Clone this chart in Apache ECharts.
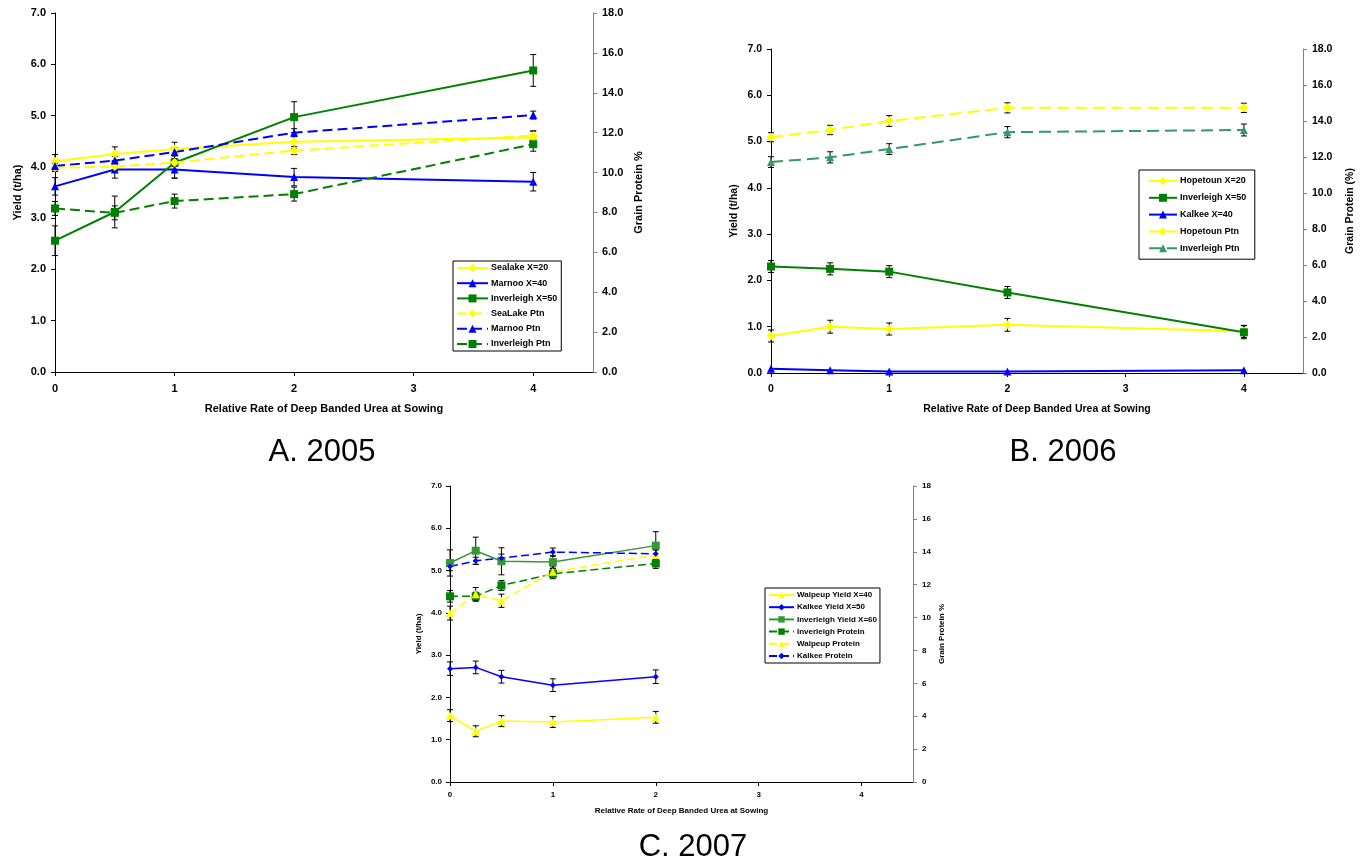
<!DOCTYPE html>
<html>
<head>
<meta charset="utf-8">
<script src="https://cdn.jsdelivr.net/npm/echarts@6/dist/echarts.min.js"></script>
<style>html,body{margin:0;padding:0;background:#fff;}#c{width:1361px;height:862px;}</style>
</head>
<body>
<div id="c"></div>
<script>
// ---------- DATA ----------
// A. 2005
const xA = [0, 0.5, 1, 2, 4];
const sealakeYield = [4.11, 4.25, 4.35, 4.49, 4.57];
const sealakeYieldErr = [0.13, 0.14, 0.13, 0.13, 0.13];
const marnooYield = [3.62, 3.95, 3.95, 3.80, 3.71];
const marnooYieldErr = [0.17, 0.17, 0.17, 0.17, 0.18];
const inverleighYieldA = [2.56, 3.12, 4.08, 4.97, 5.88];
const inverleighYieldAErr = [0.29, 0.31, 0.30, 0.30, 0.31];
const sealakePtn = [10.25, 10.3, 10.5, 11.1, 11.86];
const sealakePtnErr = [0.2, 0.2, 0.2, 0.2, 0.22];
const marnooPtn = [10.33, 10.6, 11.03, 12.0, 12.88];
const marnooPtnErr = [0.2, 0.2, 0.2, 0.2, 0.2];
const inverleighPtnA = [8.2, 7.98, 8.57, 8.92, 11.42];
const inverleighPtnAErr = [0.35, 0.35, 0.35, 0.35, 0.35];

// B. 2006
const xB = [0, 0.5, 1, 2, 4];
const hopetounYield = [0.80, 1.00, 0.95, 1.04, 0.90];
const hopetounYieldErr = [0.13, 0.14, 0.13, 0.14, 0.13];
const inverleighYieldB = [2.30, 2.25, 2.19, 1.74, 0.88];
const inverleighYieldBErr = [0.13, 0.13, 0.13, 0.13, 0.14];
const kalkeeYieldB = [0.09, 0.06, 0.03, 0.03, 0.06];
const hopetounPtn = [13.1, 13.5, 14.0, 14.73, 14.73];
const hopetounPtnErr = [0.25, 0.26, 0.3, 0.28, 0.26];
const inverleighPtnB = [11.72, 11.98, 12.44, 13.38, 13.5];
const inverleighPtnBErr = [0.3, 0.31, 0.3, 0.31, 0.33];

// C. 2007
const xC = [0, 0.25, 0.5, 1, 2];
const walpeupYield = [1.57, 1.20, 1.44, 1.42, 1.53];
const walpeupYieldErr = [0.14, 0.13, 0.13, 0.13, 0.14];
const kalkeeYieldC = [2.68, 2.71, 2.49, 2.29, 2.49];
const kalkeeYieldCErr = [0.16, 0.15, 0.15, 0.15, 0.16];
const inverleighYieldC = [5.18, 5.47, 5.22, 5.20, 5.59];
const inverleighYieldCErr = [0.31, 0.32, 0.32, 0.15, 0.33];
const inverleighPtnC = [11.29, 11.29, 11.95, 12.66, 13.29];
const inverleighPtnCErr = [0.35, 0.25, 0.3, 0.3, 0.3];
const walpeupPtn = [10.27, 11.41, 11.02, 12.78, 13.81];
const walpeupPtnErr = [0.42, 0.42, 0.4, 0.3, 0.3];
const kalkeePtn = [13.1, 13.45, 13.61, 13.98, 13.88];
const kalkeePtnErr = [0.25, 0.22, 0.25, 0.25, 0.25];

const xTickValues = [0, 1, 2, 3, 4];
const xName = 'Relative Rate of Deep Banded Urea at Sowing';
const yName = 'Yield (t/ha)';

// ---------- HELPERS ----------
const FONT = 'Liberation Sans, Arial, sans-serif';
function pairs(xs, ys) { return xs.map((x, i) => [x, ys[i]]); }
function triples(xs, ys, es) { return xs.map((x, i) => [x, ys[i], es[i]]); }

function errRender(params, api) {
  const x = api.value(0), y = api.value(1), e = api.value(2);
  const t = api.coord([x, y + e]), b = api.coord([x, y - e]);
  const hw = 3;
  const st = { stroke: '#000', lineWidth: 1 };
  return { type: 'group', children: [
    { type: 'line', shape: { x1: t[0], y1: t[1], x2: b[0], y2: b[1] }, style: st },
    { type: 'line', shape: { x1: t[0] - hw, y1: t[1], x2: t[0] + hw, y2: t[1] }, style: st },
    { type: 'line', shape: { x1: b[0] - hw, y1: b[1], x2: b[0] + hw, y2: b[1] }, style: st }
  ]};
}

const series = [];
function addLine(name, xs, ys, errs, g, yi, color, symbol, size, dashed, lw, dash) {
  if (errs) {
    series.push({
      type: 'custom', name: '_err_' + name, xAxisIndex: g, yAxisIndex: yi,
      renderItem: errRender, data: triples(xs, ys, errs), z: 1, silent: true,
      encode: { x: 0, y: 1 }
    });
  }
  series.push({
    type: 'line', name: name, xAxisIndex: g, yAxisIndex: yi,
    data: pairs(xs, ys), symbol: symbol, symbolSize: size, z: 3,
    itemStyle: { color: color, borderWidth: 0 },
    lineStyle: { color: color, width: lw, type: dashed ? dash : 'solid' }
  });
}

const YEL = '#FFFF00', BLU = '#0000FF', GRN = '#008000';

// A (grid 0, yAxis 0 left, 1 right)
addLine('Sealake X=20', xA, sealakeYield, sealakeYieldErr, 0, 0, YEL, 'diamond', 9, false, 2);
addLine('Marnoo X=40', xA, marnooYield, marnooYieldErr, 0, 0, BLU, 'triangle', 8, false, 2);
addLine('Inverleigh X=50', xA, inverleighYieldA, inverleighYieldAErr, 0, 0, GRN, 'rect', 8, false, 2);
addLine('SeaLake Ptn', xA, sealakePtn, sealakePtnErr, 0, 1, YEL, 'diamond', 9, true, 2, [10, 5]);
addLine('Marnoo Ptn', xA, marnooPtn, marnooPtnErr, 0, 1, BLU, 'triangle', 8, true, 2, [10, 5]);
addLine('Inverleigh Ptn', xA, inverleighPtnA, inverleighPtnAErr, 0, 1, GRN, 'rect', 8, true, 2, [10, 5]);

// B (grid 1, yAxis 2 left, 3 right)
addLine('Hopetoun X=20', xB, hopetounYield, hopetounYieldErr, 1, 2, YEL, 'diamond', 9, false, 2);
addLine('Inverleigh X=50 ', xB, inverleighYieldB, inverleighYieldBErr, 1, 2, GRN, 'rect', 8, false, 2);
addLine('Kalkee X=40', xB, kalkeeYieldB, null, 1, 2, BLU, 'triangle', 8, false, 2);
addLine('Hopetoun Ptn', xB, hopetounPtn, hopetounPtnErr, 1, 3, YEL, 'diamond', 9, true, 2, [12, 6]);
addLine('Inverleigh Ptn ', xB, inverleighPtnB, inverleighPtnBErr, 1, 3, '#339966', 'triangle', 8, true, 2, [12, 6]);

// C (grid 2, yAxis 4 left, 5 right)
addLine('Walpeup Yield X=40', xC, walpeupYield, walpeupYieldErr, 2, 4, YEL, 'triangle', 8, false, 1.5);
addLine('Kalkee Yield X=50', xC, kalkeeYieldC, kalkeeYieldCErr, 2, 4, BLU, 'diamond', 6, false, 1.5);
addLine('Inverleigh Yield X=60', xC, inverleighYieldC, inverleighYieldCErr, 2, 4, '#339933', 'rect', 8, false, 1.5);
addLine('Inverleigh Protein', xC, inverleighPtnC, inverleighPtnCErr, 2, 5, GRN, 'rect', 8, true, 1.5, [8, 4]);
addLine('Walpeup Protein', xC, walpeupPtn, walpeupPtnErr, 2, 5, YEL, 'triangle', 8, true, 1.5, [8, 4]);
addLine('Kalkee Protein', xC, kalkeePtn, kalkeePtnErr, 2, 5, BLU, 'diamond', 6, true, 1.5, [8, 4]);

function xAxisCfg(g, fs, labelMargin, nameGap) {
  return {
    type: 'value', gridIndex: g, min: 0, max: 4.5,
    name: xName, nameLocation: 'middle', nameGap: nameGap,
    nameTextStyle: { fontFamily: FONT, fontWeight: 'bold', fontSize: fs, color: '#000' },
    axisLine: { show: true, lineStyle: { color: '#000', width: 1 } },
    axisTick: { show: true, length: 4, customValues: xTickValues, lineStyle: { color: '#000' } },
    axisLabel: { customValues: xTickValues, margin: labelMargin, fontFamily: FONT, fontWeight: 'bold', fontSize: fs, color: '#000' },
    splitLine: { show: false }
  };
}
function yLeftCfg(g, fs, nameGap, margin) {
  return {
    type: 'value', gridIndex: g, position: 'left', min: 0, max: 7, interval: 1,
    name: yName, nameLocation: 'middle', nameGap: nameGap,
    nameTextStyle: { fontFamily: FONT, fontWeight: 'bold', fontSize: fs, color: '#000' },
    axisLine: { show: true, lineStyle: { color: '#000', width: 1 } },
    axisTick: { show: true, length: 4, lineStyle: { color: '#000' } },
    axisLabel: { margin: margin, formatter: v => v.toFixed(1), fontFamily: FONT, fontWeight: 'bold', fontSize: fs, color: '#000' },
    splitLine: { show: false }
  };
}
function yRightCfg(g, fs, name, nameGap, margin, dec) {
  return {
    type: 'value', gridIndex: g, position: 'right', min: 0, max: 18, interval: 2,
    name: name, nameLocation: 'middle', nameGap: nameGap,
    nameTextStyle: { fontFamily: FONT, fontWeight: 'bold', fontSize: fs, color: '#000' },
    axisLine: { show: true, lineStyle: { color: '#808080', width: 1 } },
    axisTick: { show: true, length: 4, lineStyle: { color: '#808080' } },
    axisLabel: { margin: margin, formatter: v => v.toFixed(dec), fontFamily: FONT, fontWeight: 'bold', fontSize: fs, color: '#000' },
    splitLine: { show: false }
  };
}

function legendCfg(names, left, top, fs, iw, ih, gap, pad) {
  return {
    orient: 'vertical', left: left, top: top, data: names,
    itemWidth: iw, itemHeight: ih, itemGap: gap, padding: pad,
    borderColor: '#000', borderWidth: 1, backgroundColor: '#fff', borderRadius: 0,
    selectedMode: false,
    textStyle: { fontFamily: FONT, fontWeight: 'bold', fontSize: fs, color: '#000', lineHeight: ih, padding: [0, 0, 0, -2] }
  };
}

const option = {
  animation: false,
  backgroundColor: '#fff',
  grid: [
    { left: 55, top: 13, width: 538, height: 359 },
    { left: 771, top: 49, width: 532, height: 324 },
    { left: 450, top: 486, width: 463, height: 296 }
  ],
  xAxis: [
    xAxisCfg(0, 11, 11, 31),
    xAxisCfg(1, 10.5, 11, 31),
    xAxisCfg(2, 8, 9, 25)
  ],
  yAxis: [
    yLeftCfg(0, 11, 32, 9),
    yRightCfg(0, 11, 'Grain Protein %', 40, 9, 1),
    yLeftCfg(1, 10.5, 31, 9),
    yRightCfg(1, 10.5, 'Grain Protein (%)', 42, 9, 1),
    yLeftCfg(2, 8, 27, 8),
    yRightCfg(2, 8, 'Grain Protein %', 25, 9, 0)
  ],
  legend: [
    legendCfg(['Sealake X=20', 'Marnoo X=40', 'Inverleigh X=50', 'SeaLake Ptn', 'Marnoo Ptn', 'Inverleigh Ptn'],
      453, 261, 9, 31, 10, 5.2, [2, 4, 2, 3]),
    legendCfg(['Hopetoun X=20', 'Inverleigh X=50 ', 'Kalkee X=40', 'Hopetoun Ptn', 'Inverleigh Ptn '],
      1139, 170, 9, 28, 10, 6.8, [6, 6, 6, 9]),
    legendCfg(['Walpeup Yield X=40', 'Kalkee Yield X=50', 'Inverleigh Yield X=60', 'Inverleigh Protein', 'Walpeup Protein', 'Kalkee Protein'],
      765, 588, 8, 25, 8, 4.2, [3, 3, 3, 3])
  ],
  graphic: [
    { type: 'text', x: 322, y: 452, style: { text: 'A. 2005', font: '31px ' + FONT, fill: '#000', align: 'center', verticalAlign: 'middle' } },
    { type: 'text', x: 1063, y: 452, style: { text: 'B. 2006', font: '31px ' + FONT, fill: '#000', align: 'center', verticalAlign: 'middle' } },
    { type: 'text', x: 693, y: 847, style: { text: 'C. 2007', font: '31px ' + FONT, fill: '#000', align: 'center', verticalAlign: 'middle' } }
  ],
  series: series
};

const chart = echarts.init(document.getElementById('c'), null, { renderer: 'canvas' });
chart.setOption(option);
</script>
</body>
</html>
